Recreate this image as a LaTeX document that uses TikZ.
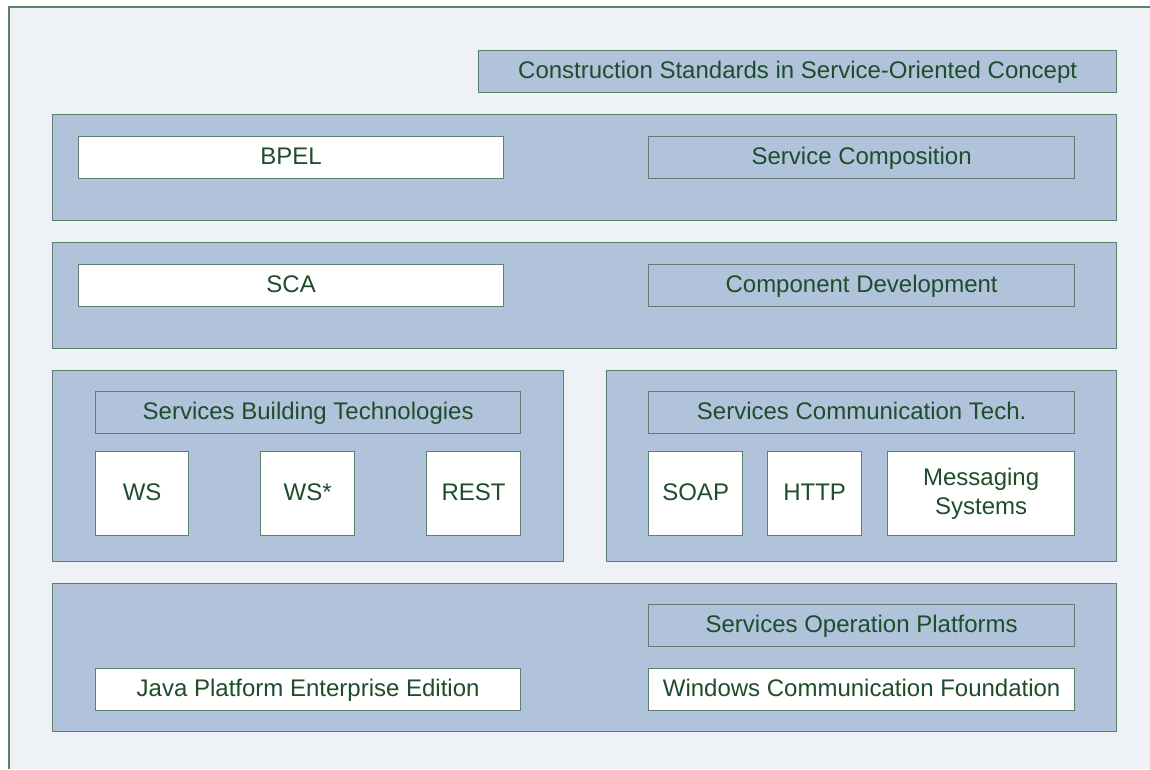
\documentclass[tikz,border=0pt]{standalone}
\usepackage{fontspec}
\setmainfont{Liberation Sans}
\definecolor{page bg}{HTML}{EEF1F6}
\definecolor{panel fill}{HTML}{B0C3DB}
\definecolor{box edge}{HTML}{5E7F6C}
\definecolor{label text}{HTML}{1E4D2B}
\tikzset{panel/.style={draw=box edge, fill=panel fill, line width=1.3pt, anchor=north west, inner sep=0pt},
	labelbox/.style={panel, text=label text, font=\fontsize{24}{29}\selectfont, align=center, text height=14pt, text depth=0pt},
	whitebox/.style={labelbox, fill=white}}

\begin{document}
\begin{tikzpicture}[x=1pt,y=-1pt]
		\useasboundingbox (0,0) rectangle (1150,769);
		\fill[page bg] (9,7) rectangle (1150,769);
		\draw[box edge, line width=1.3pt] (9,769) -- (9,7) -- (1150,7);
		% title
		\node[labelbox, minimum width=638pt, minimum height=42pt] (title) at (478,50) {Construction Standards in Service-Oriented Concept};
		% composition layer
		\node[panel, minimum width=1064pt, minimum height=106pt] (layer1) at (52,114) {};
		\node[whitebox, minimum width=425pt, minimum height=42pt] (bpel) at (78,136) {BPEL};
		\node[labelbox, minimum width=426pt, minimum height=42pt] (composition) at (648,136) {Service Composition};
		% component layer
		\node[panel, minimum width=1064pt, minimum height=106pt] (layer2) at (52,242) {};
		\node[whitebox, minimum width=425pt, minimum height=42pt] (sca) at (78,264) {SCA};
		\node[labelbox, minimum width=426pt, minimum height=42pt] (component) at (648,264) {Component Development};
		% building technologies
		\node[panel, minimum width=511pt, minimum height=191pt] (building) at (52,370) {};
		\node[labelbox, minimum width=425pt, minimum height=42pt] (buildtitle) at (95,391) {Services Building Technologies};
		\node[whitebox, minimum width=93pt, minimum height=84pt] (ws) at (95,451) {WS};
		\node[whitebox, minimum width=94pt, minimum height=84pt] (wsstar) at (260,451) {WS*};
		\node[whitebox, minimum width=94pt, minimum height=84pt] (rest) at (426,451) {REST};
		% communication technologies
		\node[panel, minimum width=510pt, minimum height=191pt] (communication) at (606,370) {};
		\node[labelbox, minimum width=426pt, minimum height=42pt] (commtitle) at (648,391) {Services Communication Tech.};
		\node[whitebox, minimum width=94pt, minimum height=84pt] (soap) at (648,451) {SOAP};
		\node[whitebox, minimum width=94pt, minimum height=84pt] (http) at (767,451) {HTTP};
		\node[whitebox, minimum width=187pt, minimum height=84pt, text height=, text depth=] (messaging) at (887,451) {Messaging\\Systems};
		% operation platforms
		\node[panel, minimum width=1064pt, minimum height=148pt] (layer4) at (52,583) {};
		\node[labelbox, minimum width=426pt, minimum height=42pt] (platforms) at (648,604) {Services Operation Platforms};
		\node[whitebox, minimum width=425pt, minimum height=42pt] (javaee) at (95,668) {Java Platform Enterprise Edition};
		\node[whitebox, minimum width=426pt, minimum height=42pt] (wcf) at (648,668) {Windows Communication Foundation};
		\end{tikzpicture}
\end{document}
